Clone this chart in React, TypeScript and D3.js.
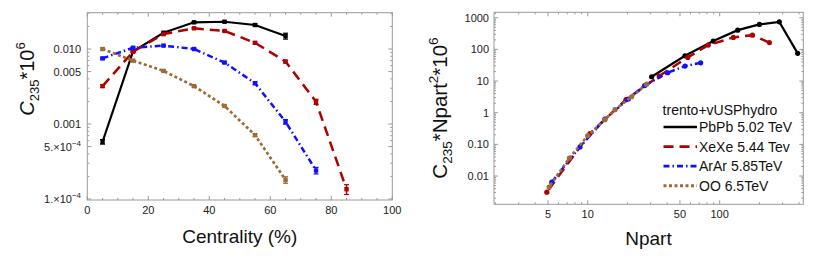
import React from 'react';
import * as d3 from 'd3';

// centrality bins (%)
const centrality = [5, 15, 25, 35, 45, 55, 65, 75, 85];

// left panel: C_235 * 10^6 vs centrality
const pbpbC = [5.8e-4, 0.0093, 0.0165, 0.0227, 0.0231, 0.0209, 0.0149];
const xexeC = [0.0032, 0.0092, 0.0158, 0.0189, 0.0174, 0.0121, 0.0068, 0.00198, 1.35e-4];
const ararC = [0.0075, 0.0104, 0.0111, 0.01, 0.0066, 0.0035, 0.00107, 2.4e-4];
const ooC = [0.01, 0.007, 0.0051, 0.0032, 0.00174, 7.1e-4, 1.8e-4];

// relative errors
const pbpbErr = [0.07, 0.02, 0.02, 0.02, 0.02, 0.03, 0.09];
const xexeErr = [0.04, 0.02, 0.02, 0.02, 0.02, 0.03, 0.04, 0.08, 0.15];
const ararErr = [0.03, 0.02, 0.02, 0.02, 0.03, 0.04, 0.07, 0.1];
const ooErr = [0.03, 0.02, 0.02, 0.02, 0.03, 0.04, 0.1];

// right panel: C_235 * Npart^2 * 10^6 vs Npart
const pbpbNpart = [390, 283, 200, 137, 89.4, 54.6, 30.5];
const pbpbScaled = [75, 743, 615, 406, 183, 62.8, 13.7];
const xexeNpart = [238, 177, 127, 82, 57.3, 34.8, 19.5, 10.4, 4.9];
const xexeScaled = [164, 282, 239, 137, 56, 14.4, 2.6, 0.22, 0.0031];
const ararNpart = [71.8, 54.6, 40.4, 27, 20.3, 13.5, 8.74, 5.34];
const ararScaled = [37.8, 29.7, 18.3, 7.2, 2.7, 0.63, 0.083, 0.0064];
const ooNpart = [28, 21.5, 16.1, 13.5, 10, 7.26, 5.1];
const ooScaled = [8.0, 3.2, 1.25, 0.6, 0.19, 0.037, 0.0045];

const legendTitle = 'trento+vUSPhydro';
const systems = ['PbPb 5.02 TeV', 'XeXe 5.44 Tev', 'ArAr 5.85TeV', 'OO 6.5TeV'];

const leftXTicks = [0, 20, 40, 60, 80, 100];
const leftYTicks = [1e-4, 5e-4, 0.001, 0.005, 0.01];
const rightXTicks = [5, 10, 50, 100];
const rightYTicks = [0.01, 0.1, 1, 10, 100, 1000];
const rightYLabels = ['0.01', '0.10', '1', '10', '100', '1000'];

const styles = [
  { color: '#000000', dash: '', width: 2.2 },
  { color: '#b00000', dash: '10,6', width: 2.5 },
  { color: '#1010ff', dash: '6,3,1.5,3', width: 2.5 },
  { color: '#9c6b38', dash: '3,2.5', width: 2.7 },
];

const FONT = 'Liberation Sans, Arial, sans-serif';
const FRAME = '#9a9a9a';

const logMinors = (lo: number, hi: number) => {
  const out: number[] = [];
  for (let e = Math.floor(Math.log10(lo)); e <= Math.ceil(Math.log10(hi)); e++) {
    for (let m = 1; m < 10; m++) {
      const v = m * Math.pow(10, e);
      if (v >= lo && v <= hi) out.push(v);
    }
  }
  return out;
};

const App: React.FC = () => {
  // left panel scales
  const lx = d3.scaleLinear().domain([0, 100]).range([87.3, 392.3]);
  const ly = d3.scaleLog().domain([9.7e-5, 0.0305]).range([200, 12.7]);
  // right panel scales
  const rx = d3.scaleLog().domain([1.95, 430]).range([494, 803.3]);
  const ry = d3.scaleLog().domain([0.00128, 1486]).range([204.3, 12.3]);

  const leftSeries = [
    { y: pbpbC, e: pbpbErr },
    { y: xexeC, e: xexeErr },
    { y: ararC, e: ararErr },
    { y: ooC, e: ooErr },
  ];
  const rightSeries = [
    { x: pbpbNpart, y: pbpbScaled },
    { x: xexeNpart, y: xexeScaled },
    { x: ararNpart, y: ararScaled },
    { x: ooNpart, y: ooScaled },
  ];

  const lineL = d3.line<[number, number]>().x(d => lx(d[0])).y(d => ly(d[1]));
  const lineR = d3.line<[number, number]>().x(d => rx(d[0])).y(d => ry(d[1]));

  const [lx0, lx1] = lx.range();
  const [ly0, ly1] = ly.range();
  const [rx0, rx1] = rx.range();
  const [ry0, ry1] = ry.range();

  const leftXMinor = d3.range(0, 101, 5).filter(v => !leftXTicks.includes(v));
  const leftYMinor = logMinors(1e-4, 0.03).filter(v => !leftYTicks.some(t => Math.abs(t - v) / v < 1e-6));
  const rightXMinor = logMinors(2, 430).filter(v => !rightXTicks.some(t => Math.abs(t - v) / v < 1e-6));
  const rightYMinor = logMinors(0.002, 1486).filter(v => !rightYTicks.some(t => Math.abs(t - v) / v < 1e-6));

  return (
    <svg width={830} height={260} style={{ position: 'absolute', left: 0, top: 0, background: '#fff' }} fontFamily={FONT}>
      {/* ---------- left panel ---------- */}
      <g>
        {leftSeries.map((s, i) => {
          const pts = s.y.map((v, j) => [centrality[j], v] as [number, number]);
          const st = styles[i];
          return (
            <g key={'l' + i}>
              <path d={lineL(pts) || ''} fill="none" stroke={st.color} strokeWidth={st.width}
                strokeDasharray={st.dash} />
              {pts.map((p, j) => {
                const cx = lx(p[0]);
                const yHi = ly(p[1] * (1 + s.e[j]));
                const yLo = ly(p[1] * (1 - s.e[j]));
                return (
                  <g key={j}>
                    <line x1={cx} x2={cx} y1={yHi} y2={yLo} stroke={st.color} strokeWidth={1.5} />
                    <line x1={cx - 2.5} x2={cx + 2.5} y1={yHi} y2={yHi} stroke={st.color} strokeWidth={1.2} />
                    <line x1={cx - 2.5} x2={cx + 2.5} y1={yLo} y2={yLo} stroke={st.color} strokeWidth={1.2} />
                    <rect x={cx - 2.2} y={ly(p[1]) - 2.2} width={4.4} height={4.4} fill={st.color} />
                  </g>
                );
              })}
            </g>
          );
        })}
        <rect x={lx0} y={ly1} width={lx1 - lx0} height={ly0 - ly1} fill="none" stroke={FRAME} strokeWidth={1} />
        {leftXTicks.map(t => (
          <g key={'lxt' + t}>
            <line x1={lx(t)} x2={lx(t)} y1={ly0} y2={ly0 - 4} stroke={FRAME} />
            <line x1={lx(t)} x2={lx(t)} y1={ly1} y2={ly1 + 4} stroke={FRAME} />
            <text x={lx(t)} y={214} fontSize={11} textAnchor="middle" fill="#222">{t}</text>
          </g>
        ))}
        {leftXMinor.map(t => (
          <g key={'lxm' + t}>
            <line x1={lx(t)} x2={lx(t)} y1={ly0} y2={ly0 - 2} stroke={FRAME} />
            <line x1={lx(t)} x2={lx(t)} y1={ly1} y2={ly1 + 2} stroke={FRAME} />
          </g>
        ))}
        {leftYTicks.map(t => (
          <g key={'lyt' + t}>
            <line x1={lx0} x2={lx0 + 4} y1={ly(t)} y2={ly(t)} stroke={FRAME} />
            <line x1={lx1} x2={lx1 - 4} y1={ly(t)} y2={ly(t)} stroke={FRAME} />
          </g>
        ))}
        {leftYMinor.map(t => (
          <g key={'lym' + t}>
            <line x1={lx0} x2={lx0 + 2} y1={ly(t)} y2={ly(t)} stroke={FRAME} />
            <line x1={lx1} x2={lx1 - 2} y1={ly(t)} y2={ly(t)} stroke={FRAME} />
          </g>
        ))}
        <text x={81} y={ly(0.01) + 4} fontSize={11} textAnchor="end" fill="#222">0.010</text>
        <text x={81} y={ly(0.005) + 4} fontSize={11} textAnchor="end" fill="#222">0.005</text>
        <text x={81} y={ly(0.001) + 4} fontSize={11} textAnchor="end" fill="#222">0.001</text>
        <text x={81} y={ly(5e-4) + 4} fontSize={11} textAnchor="end" fill="#222">
          5.×10<tspan fontSize={8} dy={-5}>−4</tspan>
        </text>
        <text x={81} y={ly(1e-4) + 4} fontSize={11} textAnchor="end" fill="#222">
          1.×10<tspan fontSize={8} dy={-5}>−4</tspan>
        </text>
        <text x={(lx0 + lx1) / 2} y={243} fontSize={19} textAnchor="middle" fill="#111">Centrality (%)</text>
        <text transform="translate(34,79) rotate(-90)" fontSize={20} textAnchor="middle" fill="#111">
          <tspan fontStyle="italic">C</tspan>
          <tspan fontSize={13} dy={5}>235</tspan>
          <tspan dy={-5}>*10</tspan>
          <tspan fontSize={13} dy={-9}>6</tspan>
        </text>
      </g>

      {/* ---------- right panel ---------- */}
      <g>
        {rightSeries.map((s, i) => {
          const pts = s.x.map((v, j) => [v, s.y[j]] as [number, number]);
          const st = styles[i];
          return (
            <g key={'r' + i}>
              <path d={lineR(pts) || ''} fill="none" stroke={st.color} strokeWidth={st.width}
                strokeDasharray={st.dash} />
              {pts.map((p, j) => (
                <circle key={j} cx={rx(p[0])} cy={ry(p[1])} r={2.6} fill={st.color} />
              ))}
            </g>
          );
        })}
        <rect x={rx0} y={ry1} width={rx1 - rx0} height={ry0 - ry1} fill="none" stroke={FRAME} strokeWidth={1} />
        {rightXTicks.map(t => (
          <g key={'rxt' + t}>
            <line x1={rx(t)} x2={rx(t)} y1={ry0} y2={ry0 - 4} stroke={FRAME} />
            <line x1={rx(t)} x2={rx(t)} y1={ry1} y2={ry1 + 4} stroke={FRAME} />
            <text x={rx(t)} y={218} fontSize={11} textAnchor="middle" fill="#222">{t}</text>
          </g>
        ))}
        {rightXMinor.map(t => (
          <g key={'rxm' + t}>
            <line x1={rx(t)} x2={rx(t)} y1={ry0} y2={ry0 - 2} stroke={FRAME} />
            <line x1={rx(t)} x2={rx(t)} y1={ry1} y2={ry1 + 2} stroke={FRAME} />
          </g>
        ))}
        {rightYTicks.map((t, i) => (
          <g key={'ryt' + t}>
            <line x1={rx0} x2={rx0 + 4} y1={ry(t)} y2={ry(t)} stroke={FRAME} />
            <line x1={rx1} x2={rx1 - 4} y1={ry(t)} y2={ry(t)} stroke={FRAME} />
            <text x={489} y={ry(t) + 4} fontSize={11} textAnchor="end" fill="#222">{rightYLabels[i]}</text>
          </g>
        ))}
        {rightYMinor.map(t => (
          <g key={'rym' + t}>
            <line x1={rx0} x2={rx0 + 2} y1={ry(t)} y2={ry(t)} stroke={FRAME} />
            <line x1={rx1} x2={rx1 - 2} y1={ry(t)} y2={ry(t)} stroke={FRAME} />
          </g>
        ))}
        <text x={648.5} y={245} fontSize={19} textAnchor="middle" fill="#111">Npart</text>
        <text transform="translate(447,108) rotate(-90)" fontSize={20.5} textAnchor="middle" fill="#111">
          <tspan>C</tspan>
          <tspan fontSize={13.5} dy={5}>235</tspan>
          <tspan dy={-5}>*Npart</tspan>
          <tspan fontSize={13.5} dy={-9}>2</tspan>
          <tspan dy={9}>*10</tspan>
          <tspan fontSize={13.5} dy={-9}>6</tspan>
        </text>

        {/* legend */}
        <text x={720} y={115} fontSize={14} textAnchor="middle" fill="#111">{legendTitle}</text>
        {systems.map((name, i) => {
          const yy = 127 + i * 19.6;
          const st = styles[i];
          return (
            <g key={'lg' + i}>
              <line x1={663.5} x2={697} y1={yy} y2={yy} stroke={st.color} strokeWidth={st.width + 0.3}
                strokeDasharray={st.dash} />
              <text x={699} y={yy + 5} fontSize={14} fill="#111">{name}</text>
            </g>
          );
        })}
      </g>
    </svg>
  );
};

export default App;
